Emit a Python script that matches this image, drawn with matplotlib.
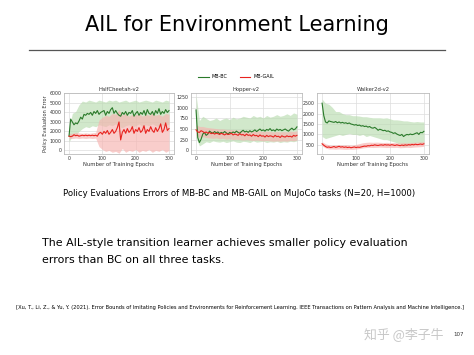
import matplotlib
matplotlib.use("Agg")
import matplotlib.pyplot as plt
import numpy as np

# ---------------- data ----------------
epochs = list(range(0, 301, 5))
band_epochs = list(range(0, 301, 10))

titles = ["HalfCheetah-v2", "Hopper-v2", "Walker2d-v2"]
series_names = ["MB-BC", "MB-GAIL"]

# HalfCheetah
hc_bc = [1500, 3300, 3000, 2700, 2900, 2800, 3100, 3500, 3300, 3800, 3700, 3900, 3800,
         4000, 3700, 4100, 3900, 4200, 3800, 4000, 4100, 4200, 3700, 4100, 3900, 4300,
         4500, 3900, 4200, 3900, 3700, 3600, 4000, 3800, 4100, 3700, 4000, 3900, 4200,
         3600, 3900, 4100, 3700, 4000, 3800, 4200, 3700, 4300, 3900, 3800, 4100, 3700,
         4200, 3900, 4400, 3800, 4100, 3900, 4300, 4000, 4200]
hc_gail = [1500, 1450, 1500, 1650, 1550, 1600, 1500, 1550, 1600, 1550, 1600, 1550, 1600,
           1550, 1600, 1550, 1600, 1500, 1800, 1900, 1700, 2000, 1800, 2100, 1700, 1900,
           2200, 1800, 2000, 2400, 3000, 1100, 1900, 2200, 1800, 2300, 1900, 2100, 2500,
           1800, 2200, 2000, 2400, 1900, 2100, 2600, 1800, 2200, 2000, 2500, 2100, 1900,
           2400, 2000, 2300, 2800, 1900, 2200, 2900, 2100, 2300]
hc_bc_lo = [900, 1500, 1600, 2000, 2300, 2500, 2400, 2600, 2500, 2700, 2600, 2500, 2700,
            2600, 2800, 2500, 2400, 2600, 2700, 2500, 2600, 2800, 2500, 2700, 2600, 2800,
            2600, 2500, 2700, 2600, 2800]
hc_bc_hi = [2300, 3900, 4100, 4800, 5200, 5100, 5300, 5200, 5100, 5300, 5200, 5100, 5300,
            5200, 5300, 5100, 5200, 5300, 5100, 5200, 5300, 5100, 5200, 5300, 5200, 5100,
            5300, 5200, 5100, 5300, 5200]
hc_gail_lo = [1250, 1250, 1300, 1250, 1300, 1250, 1300, 1250, 1300, 400, 100, -100, 0,
              -200, -100, -300, 200, -200, 0, -100, 100, -200, 0, -100, 100, -200, 0,
              -100, 100, -200, 0]
hc_gail_hi = [1800, 1800, 1900, 1850, 1800, 1850, 1800, 1850, 1900, 3200, 3500, 3700, 3600,
              3900, 3800, 4300, 3700, 3900, 3600, 3800, 3700, 3900, 3600, 3800, 3700, 3900,
              3700, 3800, 3600, 3900, 3800]

# Hopper
hp_bc = [950, 300, 180, 260, 380, 420, 350, 380, 450, 420, 400, 440, 410, 430, 390, 420,
         400, 440, 410, 380, 420, 400, 430, 410, 450, 420, 400, 440, 470, 430, 450, 420,
         460, 430, 450, 480, 440, 470, 500, 460, 480, 450, 490, 470, 510, 460, 480, 450,
         500, 470, 490, 460, 480, 500, 470, 450, 490, 520, 480, 500, 550]
hp_gail = [480, 430, 420, 460, 440, 410, 430, 400, 420, 390, 410, 380, 400, 390, 370, 400,
           380, 360, 390, 370, 380, 400, 360, 380, 370, 350, 390, 360, 370, 340, 380, 350,
           360, 330, 370, 340, 350, 320, 360, 330, 340, 310, 350, 320, 340, 330, 310, 350,
           320, 330, 300, 340, 320, 310, 340, 320, 330, 310, 350, 330, 350]
hp_bc_lo = [300, 100, 150, 200, 180, 220, 200, 190, 210, 180, 200, 220, 190, 180, 210, 200,
            180, 220, 190, 200, 210, 180, 200, 190, 210, 180, 200, 190, 210, 200, 220]
hp_bc_hi = [1300, 700, 800, 750, 700, 720, 760, 700, 740, 760, 720, 780, 740, 760, 800,
            780, 760, 820, 780, 800, 760, 820, 780, 800, 840, 800, 820, 860, 820, 880, 850]
hp_gail_lo = [350, 300, 320, 300, 290, 280, 290, 270, 280, 260, 270, 250, 260, 250, 240,
              250, 240, 230, 240, 230, 220, 230, 220, 210, 220, 210, 220, 210, 230, 220, 240]
hp_gail_hi = [600, 560, 560, 540, 530, 520, 510, 500, 500, 490, 490, 480, 480, 470, 470,
              460, 460, 450, 460, 450, 440, 450, 440, 430, 440, 430, 440, 430, 450, 440, 460]

# Walker2d
wk_bc = [2500, 1900, 1600, 1550, 1650, 1620, 1600, 1580, 1620, 1560, 1600, 1550, 1580,
         1540, 1560, 1520, 1550, 1500, 1480, 1450, 1470, 1430, 1450, 1400, 1420, 1380,
         1400, 1350, 1380, 1320, 1300, 1340, 1280, 1200, 1250, 1220, 1180, 1200, 1150,
         1170, 1120, 1100, 1050, 1080, 1020, 980, 950, 1000, 900, 960, 1000, 980, 1020,
         990, 1010, 1050, 1080, 1000, 1100, 1080, 1150]
wk_gail = [550, 480, 420, 380, 400, 370, 390, 420, 380, 400, 430, 390, 410, 380, 400, 370,
           390, 360, 380, 400, 370, 390, 380, 400, 420, 440, 430, 460, 450, 480, 470, 500,
           480, 470, 490, 500, 480, 510, 490, 500, 480, 510, 490, 470, 500, 480, 460, 490,
           470, 500, 480, 510, 490, 520, 500, 530, 510, 520, 540, 520, 550]
wk_bc_lo = [900, 800, 850, 900, 950, 1000, 950, 1000, 1050, 1000, 1000, 950, 1000, 900,
            950, 900, 850, 800, 750, 750, 700, 650, 600, 500, 400, 450, 500, 550, 600, 580,
            600]
wk_bc_hi = [2700, 2500, 2450, 2300, 2100, 2100, 2000, 1950, 1950, 1900, 1900, 1880, 1850,
            1850, 1820, 1800, 1800, 1800, 1780, 1800, 1750, 1700, 1700, 1680, 1650, 1650,
            1620, 1600, 1620, 1600, 1600]
wk_gail_lo = [450, 350, 300, 300, 290, 300, 290, 280, 290, 280, 300, 320, 350, 370, 380,
              370, 380, 390, 380, 370, 380, 370, 380, 360, 370, 380, 370, 390, 400, 410, 430]
wk_gail_hi = [650, 550, 500, 480, 490, 500, 490, 500, 490, 480, 520, 560, 600, 620, 630,
              620, 630, 620, 610, 620, 600, 610, 600, 590, 610, 600, 610, 620, 630, 640, 660]

y_limits = [(-380, 6050), (-90, 1350), (60, 2990)]
y_ticks = [[0, 1000, 2000, 3000, 4000, 5000, 6000],
           [0, 250, 500, 750, 1000, 1250],
           [500, 1000, 1500, 2000, 2500]]
x_ticks = [0, 100, 200, 300]

slide_title = "AIL for Environment Learning"
caption = "Policy Evaluations Errors of MB-BC and MB-GAIL on MuJoCo tasks (N=20, H=1000)"
body_lines = ["The AIL-style transition learner achieves smaller policy evaluation",
              "errors than BC on all three tasks."]
citation = ("[Xu, T., Li, Z., & Yu, Y. (2021). Error Bounds of Imitating Policies and "
            "Environments for Reinforcement Learning. IEEE Transactions on Pattern "
            "Analysis and Machine Intelligence.]")
watermark = "知乎 @李子牛"
page_no = "107"

# ---------------- drawing ----------------
W, H = 474, 355
fig = plt.figure(figsize=(W / 100, H / 100), dpi=100)
fig.patch.set_facecolor("white")

green = "#2a7a2a"
red = "#e8231f"
green_band = "#b9dcb0"
red_band = "#f7b3b0"

data = [
    (hc_bc, hc_gail, hc_bc_lo, hc_bc_hi, hc_gail_lo, hc_gail_hi),
    (hp_bc, hp_gail, hp_bc_lo, hp_bc_hi, hp_gail_lo, hp_gail_hi),
    (wk_bc, wk_gail, wk_bc_lo, wk_bc_hi, wk_gail_lo, wk_gail_hi),
]
lefts = [64, 191, 317]
widths = [110, 111, 112]
top_px, bot_px = 93, 154

axes = []
for i, (bc, gail, bclo, bchi, glo, ghi) in enumerate(data):
    ax = fig.add_axes([lefts[i] / W, 1 - bot_px / H, widths[i] / W, (bot_px - top_px) / H])
    axes.append(ax)
    ax.fill_between(band_epochs, bclo, bchi, color=green_band, alpha=0.65, lw=0)
    ax.fill_between(band_epochs, glo, ghi, color=red_band, alpha=0.65, lw=0)
    l1, = ax.plot(epochs, bc, color=green, lw=0.8, label=series_names[0])
    l2, = ax.plot(epochs, gail, color=red, lw=0.8, label=series_names[1])
    ax.set_ylim(*y_limits[i])
    ax.set_xlim(-15, 315)
    ax.set_yticks(y_ticks[i])
    ax.set_xticks(x_ticks)
    ax.grid(True, color="#dddddd", lw=0.5)
    ax.set_axisbelow(True)
    ax.tick_params(labelsize=3.4, length=0, pad=1.5, colors="#333333")
    for s in ax.spines.values():
        s.set_color("#bbbbbb")
        s.set_linewidth(0.6)
    ax.set_title(titles[i], fontsize=3.8, pad=1.5, color="#333333")
    ax.set_xlabel("Number of Training Epochs", fontsize=3.8, labelpad=1, color="#333333")
    if i == 0:
        ax.set_ylabel("Policy Evaluation Error", fontsize=3.6, labelpad=1.5, color="#333333")

fig.legend(handles=[l1, l2], labels=series_names, loc="center",
           bbox_to_anchor=(236 / W, 1 - 77 / H), ncol=2, frameon=False,
           fontsize=3.5, handlelength=2.2, columnspacing=2.5, handletextpad=0.6)

fig.text(0.5, 1 - 25 / H, slide_title, ha="center", va="center", fontsize=15, color="black")
fig.add_artist(plt.Line2D([29 / W, 445 / W], [1 - 50 / H, 1 - 50 / H],
                          color="#555555", lw=0.9, transform=fig.transFigure))
fig.text(239 / W, 1 - 193 / H, caption, ha="center", va="center", fontsize=6.1, color="black")
fig.text(42 / W, 1 - 243 / H, body_lines[0], ha="left", va="center", fontsize=7.9, color="black")
fig.text(42 / W, 1 - 260 / H, body_lines[1], ha="left", va="center", fontsize=7.9, color="black")
fig.text(240 / W, 1 - 308 / H, citation, ha="center", va="center", fontsize=3.7, color="black")
fig.text(404 / W, 1 - 334 / H, watermark, ha="center", va="center", fontsize=9.3,
         color="#c8c8c8", family=["Noto Sans CJK SC", "DejaVu Sans"])
fig.text(459 / W, 1 - 334 / H, page_no, ha="center", va="center", fontsize=4, color="#333333")

fig.savefig("out.png", dpi=100, facecolor="white")
